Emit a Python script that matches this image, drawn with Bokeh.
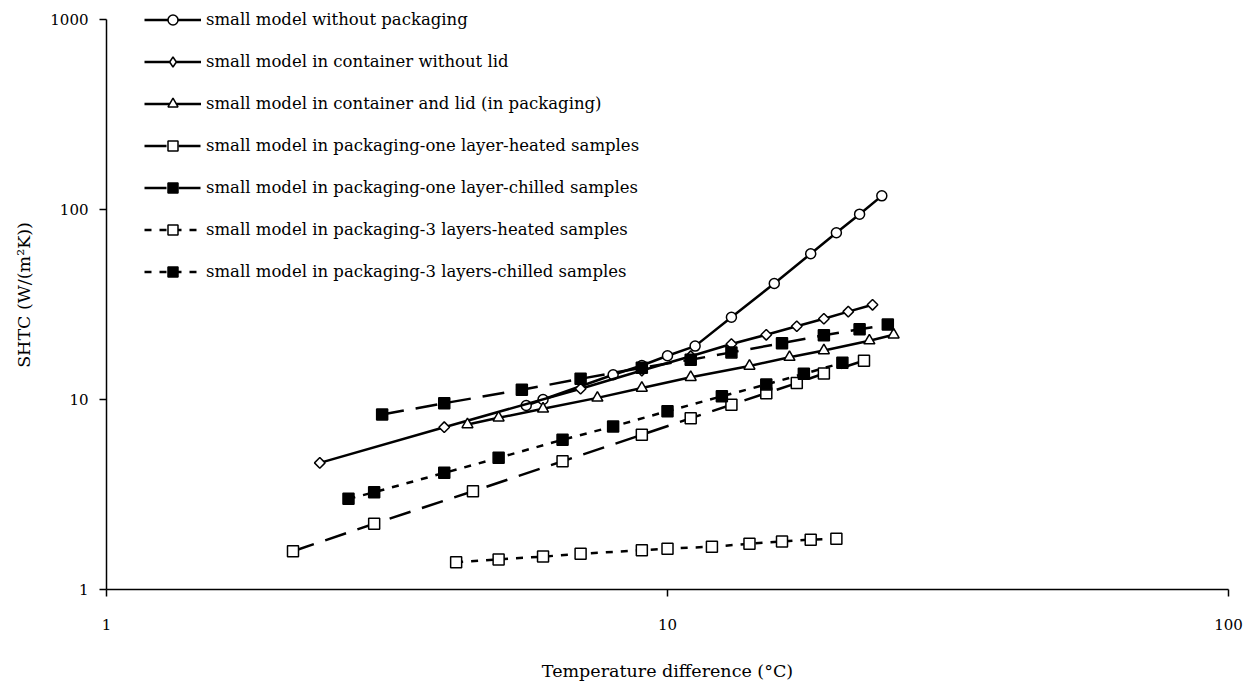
import numpy as np
from bokeh.plotting import figure
from bokeh.models import Range1d, FixedTicker, Legend, LegendItem
from bokeh.embed import file_html
from bokeh.resources import INLINE

# ---------------- data ----------------
x_ticks = [1, 10, 100]
x_tick_labels = ["1", "10", "100"]
y_ticks = [1, 10, 100, 1000]
y_tick_labels = ["1", "10", "100", "1000"]

labels = [
    "small model without packaging",
    "small model in container without lid",
    "small model in container and lid (in packaging)",
    "small model in packaging-one layer-heated samples",
    "small model in packaging-one layer-chilled samples",
    "small model in packaging-3 layers-heated samples",
    "small model in packaging-3 layers-chilled samples",
]

x_nopack = [5.6, 6.0, 8.0, 9.0, 10.0, 11.2, 13.0, 15.5, 18.0, 20.0, 22.0, 24.1]
y_nopack = [9.3, 10.0, 13.5, 15.1, 17.0, 19.1, 27.1, 40.8, 58.5, 75.4, 94.5, 118]

x_nolid = [2.4, 4.0, 7.0, 9.0, 11.0, 13.0, 15.0, 17.0, 19.0, 21.0, 23.2]
y_nolid = [4.64, 7.15, 11.4, 14.2, 16.9, 19.6, 21.9, 24.3, 26.6, 29.0, 31.5]

x_lid = [4.4, 5.0, 6.0, 7.5, 9.0, 11.0, 14.0, 16.5, 19.0, 22.9, 25.3]
y_lid = [7.39, 8.01, 8.93, 10.2, 11.5, 13.1, 15.0, 16.7, 18.1, 20.4, 21.9]

x_1h = [2.15, 3.0, 4.5, 6.5, 9.0, 11.0, 13.0, 15.0, 17.0, 19.0, 22.4]
y_1h = [1.59, 2.22, 3.29, 4.73, 6.52, 7.97, 9.38, 10.8, 12.2, 13.7, 16.0]

x_1c = [3.1, 4.0, 5.5, 7.0, 9.0, 11.0, 13.0, 16.0, 19.0, 22.0, 24.7]
y_1c = [8.34, 9.56, 11.25, 12.85, 14.7, 16.2, 17.7, 19.8, 21.8, 23.4, 24.8]

x_3h = [4.2, 5.0, 6.0, 7.0, 9.0, 10.0, 12.0, 14.0, 16.0, 18.0, 20.0]
y_3h = [1.39, 1.44, 1.49, 1.54, 1.61, 1.64, 1.68, 1.74, 1.79, 1.83, 1.85]

x_3c = [2.7, 3.0, 4.0, 5.0, 6.5, 8.0, 10.0, 12.5, 15.0, 17.5, 20.5]
y_3c = [3.0, 3.25, 4.11, 4.93, 6.14, 7.21, 8.68, 10.4, 12.0, 13.65, 15.6]

# ---------------- styles ----------------
FONT = "DejaVu Serif"
LW = 2.5
LONG = "22 12"
SHORT = "7 8"

# (x, y, plot marker, size, fill, dash, angle, legend marker)
series = [
    (x_nopack, y_nopack, "circle", 10, "white", "solid", 0.0, "circle"),
    (x_nolid, y_nolid, "square", 7.5, "white", "solid", np.pi / 4, "diamond"),
    (x_lid, y_lid, "triangle", 11, "white", "solid", 0.0, "triangle"),
    (x_1h, y_1h, "square", 11, "white", LONG, 0.0, "square"),
    (x_1c, y_1c, "square", 11, "black", LONG, 0.0, "square"),
    (x_3h, y_3h, "square", 11, "white", SHORT, 0.0, "square"),
    (x_3c, y_3c, "square", 11, "black", SHORT, 0.0, "square"),
]

# frame extends 19 px above the 1000 level (190 px per decade) so the
# legend's first row is not clipped; the axis itself stops at 1000
y_top = 1000 * 10 ** (19 / 190)

p = figure(width=1253, height=687, x_axis_type="log", y_axis_type="log",
           x_range=Range1d(1, 100), y_range=Range1d(1, y_top),
           output_backend="svg", toolbar_location=None,
           min_border_left=106, min_border_right=25,
           min_border_top=0, min_border_bottom=98)

p.outline_line_color = None
p.xgrid.visible = False
p.ygrid.visible = False
p.background_fill_color = "white"
p.border_fill_color = "white"

nan = [float("nan")]
items = []
for (xs, ys, marker, size, fill, dash, ang, lmarker), lab in zip(series, labels):
    lr = p.line(xs, ys, line_color="black", line_width=LW, line_dash=dash)
    sr = p.scatter(xs, ys, marker=marker, size=size, fill_color=fill,
                   line_color="black", line_width=1.5, angle=ang)
    if lmarker != marker:
        # legend-only sample (legend glyphs ignore the marker angle)
        sr = p.scatter(x=nan, y=nan, marker=lmarker, size=size, fill_color=fill,
                       line_color="black", line_width=1.5)
    items.append(LegendItem(label=lab, renderers=[lr, sr]))

legend = Legend(items=items, location=(38, 305), orientation="vertical",
                glyph_width=57, glyph_height=25, spacing=17, padding=0, margin=0,
                label_standoff=5, border_line_color=None, background_fill_alpha=0,
                label_text_font=FONT, label_text_font_size="16.5px",
                label_text_color="black")
p.add_layout(legend)

for ax in (p.xaxis[0], p.yaxis[0]):
    ax.axis_line_color = "black"
    ax.axis_line_width = 1.5
    ax.major_tick_line_color = "black"
    ax.major_tick_line_width = 1.5
    ax.major_tick_in = 0
    ax.major_tick_out = 7
    ax.minor_tick_line_color = None
    ax.major_label_text_font = FONT
    ax.major_label_text_font_size = "15px"
    ax.major_label_text_color = "black"
    ax.axis_label_text_font = FONT
    ax.axis_label_text_font_size = "17.5px"
    ax.axis_label_text_font_style = "normal"
    ax.axis_label_text_color = "black"

p.yaxis.bounds = (1, 1000)
p.xaxis.ticker = FixedTicker(ticks=x_ticks)
p.yaxis.ticker = FixedTicker(ticks=y_ticks)
p.xaxis.major_label_overrides = {t: s for t, s in zip(x_ticks, x_tick_labels)}
p.yaxis.major_label_overrides = {t: s for t, s in zip(y_ticks, y_tick_labels)}
p.xaxis.major_label_standoff = 22
p.yaxis.major_label_standoff = 11
p.xaxis.axis_label = "Temperature difference (°C)"
p.yaxis.axis_label = "SHTC (W/(m²K))"
p.xaxis.axis_label_standoff = 28
p.yaxis.axis_label_standoff = 13

open("out.html", "w").write(file_html(p, INLINE))
